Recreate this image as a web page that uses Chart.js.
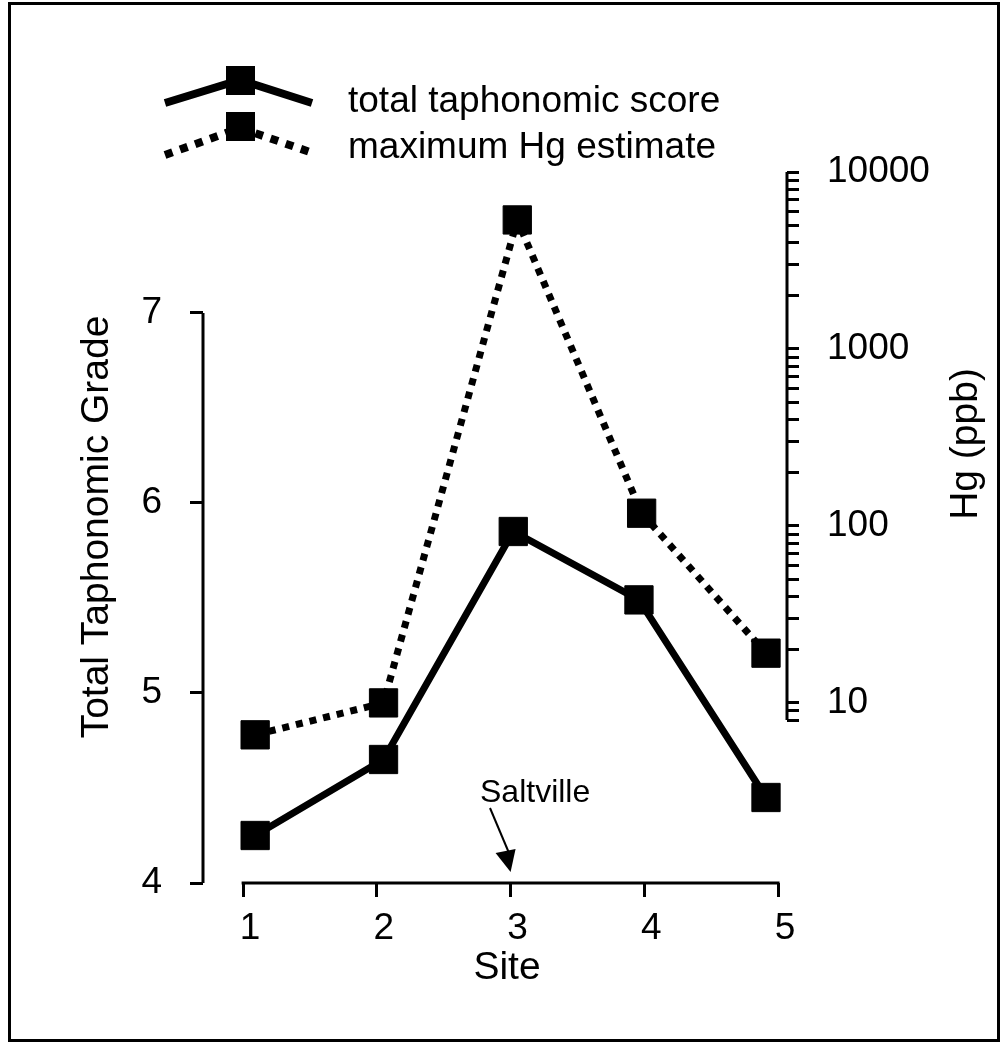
<!DOCTYPE html>
<html>
<head>
<meta charset="utf-8">
<script src="https://cdn.jsdelivr.net/npm/chart.js@4/dist/chart.umd.min.js"></script>
<style>
  body { margin: 0; background: #fff; }
  #wrap { width: 1008px; height: 1049px; }
</style>
</head>
<body>
<div id="wrap"><canvas id="chart" width="1008" height="1049"></canvas></div>
<script>
// data
const siteTicks = [1, 2, 3, 4, 5];
const scoreX = [1.09, 2.05, 3.02, 3.96, 4.91];
const scoreValues = [4.25, 4.65, 5.85, 5.49, 4.45];
const hgX = [1.09, 2.05, 3.05, 3.98, 4.91];
const hgValues = [6.6, 10, 5360, 118, 19.1];
const gradeTicks = [4, 5, 6, 7];
const hgMajor = [10, 100, 1000, 10000];
const hgMinor = [8, 9, 20, 30, 40, 50, 60, 70, 80, 90, 200, 300, 400, 500, 600, 700, 800, 900,
  2000, 3000, 4000, 5000, 6000, 7000, 8000, 9000];
const legendLabels = ['total taphonomic score', 'maximum Hg estimate'];

const FONT = '"Liberation Sans", Arial, sans-serif';

const toPoints = (xs, ys) => xs.map((x, i) => ({ x: x, y: ys[i] }));

// axis lines, titles, legend, annotation, frame
const extras = {
  id: 'extras',
  afterDraw(chart) {
    const ctx = chart.ctx;
    const { x, yL, yR } = chart.scales;
    ctx.save();
    ctx.strokeStyle = '#000';
    ctx.fillStyle = '#000';
    ctx.lineWidth = 3;
    ctx.lineCap = 'butt';

    // axis lines
    ctx.beginPath();
    ctx.moveTo(yL.right, yL.getPixelForValue(7));
    ctx.lineTo(yL.right, yL.getPixelForValue(4));
    ctx.moveTo(yR.left, yR.getPixelForValue(8));
    ctx.lineTo(yR.left, yR.getPixelForValue(10000));
    ctx.moveTo(x.getPixelForValue(1) - 1.5, x.top);
    ctx.lineTo(x.getPixelForValue(5) + 1.5, x.top);
    ctx.stroke();

    // titles
    ctx.font = '39px ' + FONT;
    ctx.textAlign = 'center';
    ctx.textBaseline = 'middle';
    ctx.fillText('Site', 507, 968);
    ctx.save();
    ctx.translate(97, 527);
    ctx.rotate(-Math.PI / 2);
    ctx.fillText('Total Taphonomic Grade', 0, 0);
    ctx.restore();
    ctx.save();
    ctx.translate(966, 444);
    ctx.rotate(-Math.PI / 2);
    ctx.fillText('Hg (ppb)', 0, 0);
    ctx.restore();

    // legend
    ctx.lineWidth = 8;
    ctx.beginPath();
    ctx.moveTo(165, 103);
    ctx.lineTo(240, 80);
    ctx.lineTo(312, 103);
    ctx.stroke();
    ctx.fillRect(226, 66, 29, 29);
    ctx.setLineDash([8, 8]);
    ctx.beginPath();
    ctx.moveTo(165, 155);
    ctx.lineTo(240, 128);
    ctx.lineTo(310, 152);
    ctx.stroke();
    ctx.setLineDash([]);
    ctx.fillRect(226, 112, 29, 29);
    ctx.font = '37px ' + FONT;
    ctx.textAlign = 'left';
    ctx.fillText(legendLabels[0], 348, 102);
    ctx.fillText(legendLabels[1], 348, 148);

    // Saltville arrow
    ctx.font = '32px ' + FONT;
    ctx.textAlign = 'left';
    ctx.textBaseline = 'alphabetic';
    ctx.fillText('Saltville', 480, 802);
    const ax = x.getPixelForValue(3);
    ctx.lineWidth = 2;
    ctx.beginPath();
    ctx.moveTo(490, 808);
    ctx.lineTo(ax - 2, 852);
    ctx.stroke();
    ctx.beginPath();
    ctx.moveTo(ax, x.top - 11);
    ctx.lineTo(ax - 15, x.top - 30);
    ctx.lineTo(ax + 5, x.top - 34);
    ctx.closePath();
    ctx.fill();

    // frame
    ctx.lineWidth = 3;
    ctx.strokeRect(9.5, 3.5, 989, 1037);
    ctx.restore();
  }
};

new Chart(document.getElementById('chart'), {
  type: 'line',
  data: {
    datasets: [
      {
        label: legendLabels[0],
        data: toPoints(scoreX, scoreValues),
        yAxisID: 'yL',
        borderColor: '#000',
        backgroundColor: '#000',
        borderWidth: 7,
        pointStyle: 'rect',
        pointRadius: 20,
        pointBorderWidth: 1,
        tension: 0
      },
      {
        label: legendLabels[1],
        data: toPoints(hgX, hgValues),
        yAxisID: 'yR',
        borderColor: '#000',
        backgroundColor: '#000',
        borderWidth: 7,
        borderDash: [7, 7],
        pointStyle: 'rect',
        pointRadius: 20,
        pointBorderWidth: 1,
        tension: 0
      }
    ]
  },
  options: {
    responsive: false,
    animation: false,
    layout: { padding: { top: 172, left: 0, right: 0, bottom: 0 } },
    plugins: { legend: { display: false }, tooltip: { enabled: false } },
    scales: {
      x: {
        type: 'linear',
        min: 0.7,
        max: 5.067,
        afterBuildTicks: s => { s.ticks = siteTicks.map(v => ({ value: v })); },
        afterFit: s => { s.height = 166; },
        border: { display: false },
        grid: { drawOnChartArea: false, tickLength: 14, tickWidth: 3, tickColor: '#000' },
        ticks: { color: '#000', font: { family: FONT, size: 37 }, padding: 10, labelOffset: 7, maxRotation: 0 }
      },
      yL: {
        type: 'linear',
        position: 'left',
        min: 4,
        max: 7.742,
        afterBuildTicks: s => { s.ticks = gradeTicks.map(v => ({ value: v })); },
        afterFit: s => { s.width = 203; },
        border: { display: false },
        grid: { drawOnChartArea: false, tickLength: 13, tickWidth: 3, tickColor: '#000' },
        ticks: { color: '#000', font: { family: FONT, size: 37 }, padding: 28 }
      },
      yR: {
        type: 'logarithmic',
        position: 'right',
        min: 0.96,
        max: 10000,
        afterBuildTicks: s => {
          s.ticks = hgMinor.concat(hgMajor).sort((a, b) => a - b).map(v => ({ value: v, major: hgMajor.includes(v) }));
        },
        afterFit: s => { s.width = 221; },
        border: { display: false },
        grid: { drawOnChartArea: false, tickLength: 12, tickWidth: 3, tickColor: '#000' },
        ticks: {
          color: '#000',
          font: { family: FONT, size: 37 },
          padding: 28,
          autoSkip: false,
          callback: v => hgMajor.includes(v) ? String(v) : ''
        }
      }
    }
  },
  plugins: [extras]
});
</script>
</body>
</html>
